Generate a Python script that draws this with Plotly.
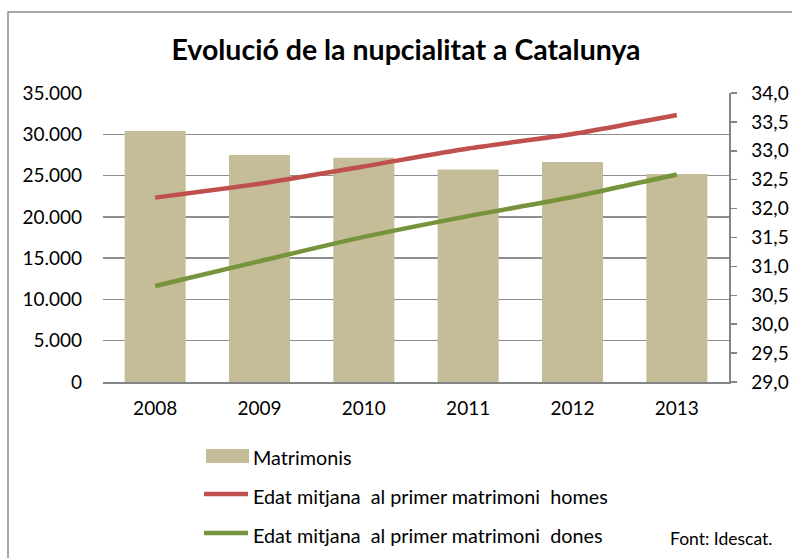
import plotly.graph_objects as go

years = ["2008", "2009", "2010", "2011", "2012", "2013"]
matrimonis = [30400, 27500, 27150, 25750, 26650, 25200]
edat_homes = [32.19, 32.43, 32.73, 33.04, 33.29, 33.62]
edat_dones = [30.66, 31.09, 31.51, 31.87, 32.20, 32.59]

left_ticks = [0, 5000, 10000, 15000, 20000, 25000, 30000, 35000]
right_ticks = [29.0, 29.5, 30.0, 30.5, 31.0, 31.5, 32.0, 32.5, 33.0, 33.5, 34.0]

title = "Evolució de la nupcialitat a Catalunya"
legend_names = ["Matrimonis",
                "Edat mitjana\u00a0 al primer matrimoni\u00a0 homes",
                "Edat mitjana\u00a0 al primer matrimoni\u00a0 dones"]
source = "Font: Idescat."

BAR = "#C4BD97"
RED = "#C0504D"
GREEN = "#77933C"
GRID = "#8E8E8E"
FONT = "Lato"

# the page body margin is removed (post_script below), so figure pixels == page pixels
W, H = 792, 558
L, R, T, B = 103, 729, 93, 382

def px(x):
    return (x - L) / (R - L)

def py(y):
    return (B - y) / (B - T)

fig = go.Figure()
fig.add_trace(go.Bar(x=years, y=matrimonis, marker=dict(color=BAR, line=dict(width=0)),
                     name=legend_names[0], showlegend=False))
fig.add_trace(go.Scatter(x=years, y=edat_homes, yaxis="y2", mode="lines",
                         line=dict(color=RED, width=4.5, shape="spline", smoothing=0.6),
                         name=legend_names[1], showlegend=False))
fig.add_trace(go.Scatter(x=years, y=edat_dones, yaxis="y2", mode="lines",
                         line=dict(color=GREEN, width=4.5, shape="spline", smoothing=0.6),
                         name=legend_names[2], showlegend=False))

shapes = [
    dict(type="rect", xref="paper", yref="paper", x0=px(8), x1=px(820), y0=py(590), y1=py(12),
         line=dict(color="#8A8A8A", width=1.5), fillcolor="rgba(0,0,0,0)", layer="below"),
    dict(type="rect", xref="paper", yref="paper", x0=px(206), x1=px(249), y0=py(463), y1=py(449),
         line=dict(width=0), fillcolor=BAR),
    dict(type="line", xref="paper", yref="paper", x0=px(204), x1=px(248), y0=py(494), y1=py(494),
         line=dict(color=RED, width=4.5)),
    dict(type="line", xref="paper", yref="paper", x0=px(204), x1=px(248), y0=py(533), y1=py(533),
         line=dict(color=GREEN, width=4.5)),
]

LEG = dict(size=19.8, color="#000", family=FONT)
annotations = [
    dict(text=legend_names[0], x=px(251), y=py(457), xref="paper", yref="paper",
         xanchor="left", yanchor="middle", showarrow=False, font=LEG),
    dict(text=legend_names[1], x=px(251), y=py(496), xref="paper", yref="paper",
         xanchor="left", yanchor="middle", showarrow=False, font=LEG),
    dict(text=legend_names[2], x=px(251), y=py(535), xref="paper", yref="paper",
         xanchor="left", yanchor="middle", showarrow=False, font=LEG),
    dict(text=source, x=px(774), y=py(538), xref="paper", yref="paper",
         xanchor="right", yanchor="middle", showarrow=False, font=dict(size=17.5, color="#000", family=FONT)),
]

fig.update_layout(
    width=W, height=H, autosize=False,
    margin=dict(l=L, r=W - R, t=T, b=H - B, pad=0),
    paper_bgcolor="white", plot_bgcolor="white",
    separators=",.",
    title=dict(text="<b>" + title + "</b>", x=406 / W, xanchor="center",
               y=1 - 50 / H, yanchor="middle",
               font=dict(size=28.5, color="#000", family=FONT)),
    font=dict(family=FONT, color="#000"),
    bargap=0.415,
    showlegend=False,
    hovermode=False,
    xaxis=dict(type="category", showgrid=False, showline=True, linecolor="#858585", linewidth=2,
               ticks="", tickfont=dict(size=19), ticklabelstandoff=8, automargin=False),
    yaxis=dict(range=[0, 35000], tickvals=left_ticks, tickformat=",.0f", showgrid=True,
               gridcolor=GRID, gridwidth=1.5, showline=False, zeroline=False, ticks="",
               tickfont=dict(size=19), ticklabelstandoff=20, automargin=False),
    yaxis2=dict(range=[29, 34], tickvals=right_ticks, tickformat=".1f", overlaying="y", side="right",
                showgrid=False, zeroline=False, showline=True, linecolor="#858585", linewidth=1.5,
                ticks="outside", ticklen=6, tickcolor="#858585", tickwidth=1.5,
                tickfont=dict(size=19), ticklabelstandoff=11, automargin=False),
    shapes=shapes,
    annotations=annotations,
)

fig.write_html("out.html",
               config={"displayModeBar": False, "staticPlot": True},
               post_script="document.body.style.margin='0';document.body.style.overflow='hidden';")
